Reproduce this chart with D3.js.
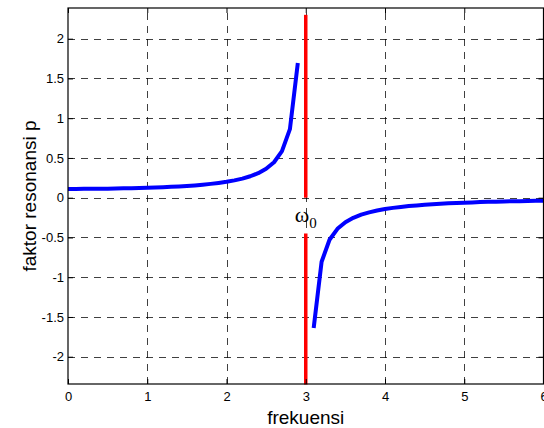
<!DOCTYPE html>
<html>
<head>
<meta charset="utf-8">
<script src="https://cdn.jsdelivr.net/npm/d3@7"></script>
<style>
  body { margin: 0; background: #fff; }
  svg { display: block; font-family: "Liberation Sans", Arial, sans-serif; }
</style>
</head>
<body>
<script>
// tick labels
var xTicks = [0, 1, 2, 3, 4, 5, 6];
var yTicks = [-2, -1.5, -1, -0.5, 0, 0.5, 1, 1.5, 2];

// left branch (below resonance)
var freqLow = [0, 0.1, 0.2, 0.3, 0.4, 0.5, 0.6, 0.7, 0.8, 0.9, 1.0, 1.1, 1.2, 1.3, 1.4,
  1.5, 1.6, 1.7, 1.8, 1.9, 2.0, 2.1, 2.2, 2.3, 2.4, 2.5, 2.6, 2.7, 2.8, 2.9];
var pLow = [0.111, 0.111, 0.112, 0.112, 0.113, 0.114, 0.116, 0.118, 0.120, 0.122, 0.125,
  0.128, 0.132, 0.137, 0.142, 0.148, 0.155, 0.164, 0.174, 0.186, 0.200, 0.218, 0.240,
  0.270, 0.309, 0.364, 0.446, 0.585, 0.862, 1.695];

// right branch (above resonance)
var freqHigh = [3.1, 3.2, 3.3, 3.4, 3.5, 3.6, 3.7, 3.8, 3.9, 4.0, 4.1, 4.2, 4.3, 4.4, 4.5,
  4.6, 4.7, 4.8, 4.9, 5.0, 5.1, 5.2, 5.3, 5.4, 5.5, 5.6, 5.7, 5.8, 5.9, 6.0];
var pHigh = [-1.639, -0.806, -0.529, -0.391, -0.308, -0.253, -0.213, -0.184, -0.161, -0.143,
  -0.128, -0.116, -0.105, -0.097, -0.089, -0.082, -0.076, -0.071, -0.067, -0.063, -0.059,
  -0.055, -0.052, -0.050, -0.047, -0.045, -0.043, -0.041, -0.039, -0.037];

// resonance marker
var omega0 = 3;
var markerUpper = [2.3, 0];
var markerLower = [-0.45, -2.35];

(function () {
    var W = 544, H = 428;
    var pLeft = 68, pRight = 543.5, pTop = 8, pBottom = 384;

    var svg = d3.select("body").append("svg")
        .attr("width", W)
        .attr("height", H);

    var x = d3.scaleLinear().domain([0, 6]).range([pLeft, pRight]);
    var y = d3.scaleLinear().domain([-2.343, 2.386]).range([pBottom, pTop]);

    // dashed grid
    var grid = svg.append("g")
        .attr("stroke", "#000")
        .attr("stroke-width", 1)
        .attr("stroke-dasharray", "7,6")
        .attr("stroke-opacity", 0.75);

    grid.selectAll("line.h")
        .data(yTicks).enter().append("line")
        .attr("class", "h")
        .attr("x1", pLeft).attr("x2", pRight)
        .attr("y1", function (d) { return Math.round(y(d)) + 0.5; })
        .attr("y2", function (d) { return Math.round(y(d)) + 0.5; });

    grid.selectAll("line.v")
        .data(xTicks.slice(1, -1)).enter().append("line")
        .attr("class", "v")
        .attr("y1", pBottom).attr("y2", pTop)
        .attr("x1", function (d) { return Math.round(x(d)) + 0.5; })
        .attr("x2", function (d) { return Math.round(x(d)) + 0.5; });

    // curve
    var lineFunction = d3.line()
        .x(function (d) { return x(d[0]); })
        .y(function (d) { return y(d[1]); });

    var lowData = freqLow.map(function (f, i) { return [f, pLow[i]]; });
    var highData = freqHigh.map(function (f, i) { return [f, pHigh[i]]; });

    [lowData, highData].forEach(function (d) {
        svg.append("path")
            .attr("d", lineFunction(d))
            .attr("fill", "none")
            .attr("stroke", "#0000ff")
            .attr("stroke-width", 4)
            .attr("stroke-linejoin", "round");
    });

    // resonance line
    [markerUpper, markerLower].forEach(function (seg) {
        svg.append("line")
            .attr("x1", x(omega0)).attr("x2", x(omega0))
            .attr("y1", y(seg[0])).attr("y2", y(seg[1]))
            .attr("stroke", "#ff0000")
            .attr("stroke-width", 3.5);
    });

    var lbl = svg.append("text")
        .attr("x", x(omega0) - 11)
        .attr("y", 222)
        .attr("font-family", "'Liberation Serif', 'Times New Roman', serif")
        .attr("font-size", 22)
        .attr("fill", "#000");
    lbl.append("tspan").text("\u03c9");
    lbl.append("tspan").attr("dy", 6).attr("font-size", 15).text("0");

    // axes
    var fmt = function (d) { return String(d); };

    var xAxis = svg.append("g")
        .attr("transform", "translate(0," + pBottom + ")")
        .call(d3.axisBottom(x).tickValues(xTicks).tickSize(-5).tickPadding(8).tickFormat(fmt));

    var yAxis = svg.append("g")
        .attr("transform", "translate(" + pLeft + ",0)")
        .call(d3.axisLeft(y).tickValues(yTicks).tickSize(-5).tickPadding(4).tickFormat(fmt));

    var xTop = svg.append("g")
        .attr("transform", "translate(0," + pTop + ")")
        .call(d3.axisTop(x).tickValues(xTicks).tickSize(-5).tickFormat(""));

    var yRight = svg.append("g")
        .attr("transform", "translate(" + pRight + ",0)")
        .call(d3.axisRight(y).tickValues(yTicks).tickSize(-5).tickFormat(""));

    [xAxis, yAxis, xTop, yRight].forEach(function (g) {
        g.select(".domain").remove();
        g.attr("font-size", 13).attr("font-family", "'Liberation Sans', Arial, sans-serif");
        g.selectAll("text").attr("fill", "#000");
        g.selectAll(".tick line").attr("stroke", "#000");
    });

    svg.append("rect")
        .attr("x", pLeft).attr("y", pTop)
        .attr("width", pRight - pLeft).attr("height", pBottom - pTop)
        .attr("fill", "none")
        .attr("stroke", "#000")
        .attr("stroke-width", 1.2);

    // axis titles
    svg.append("text")
        .attr("x", (pLeft + pRight) / 2)
        .attr("y", 424)
        .attr("text-anchor", "middle")
        .attr("font-size", 19)
        .text("frekuensi");

    svg.append("text")
        .attr("transform", "translate(36," + ((pTop + pBottom) / 2) + ") rotate(-90)")
        .attr("text-anchor", "middle")
        .attr("font-size", 19)
        .text("faktor resonansi p");
})();
</script>
</body>
</html>
